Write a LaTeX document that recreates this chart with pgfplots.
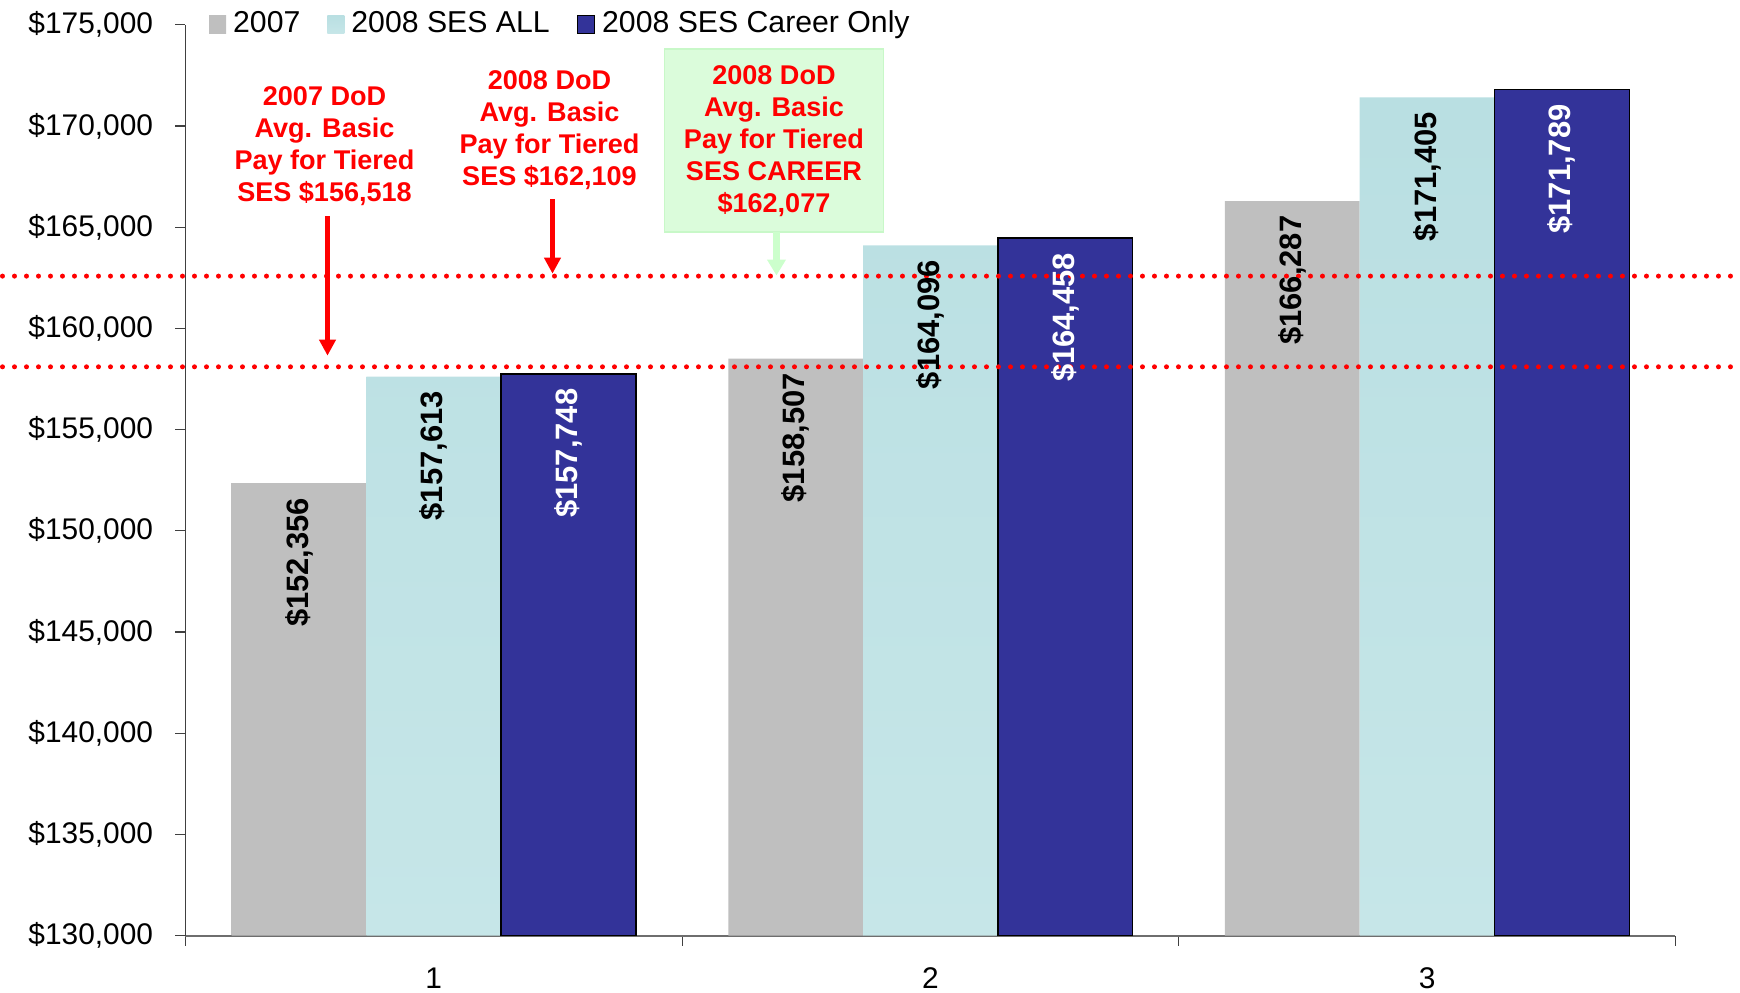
\documentclass[border=0pt]{standalone}
\usepackage{pgfplots}
\pgfplotsset{compat=1.18}
\usetikzlibrary{arrows.meta}
\usepackage{fontspec}
\setmainfont{Liberation Sans}
\definecolor{navy}{HTML}{333399}
\definecolor{cyanA}{HTML}{B9DFE2}
\definecolor{cyanB}{HTML}{C6E6E8}
\definecolor{gA}{HTML}{BFBFBF}
\definecolor{gB}{HTML}{D5D5D5}
\definecolor{boxfill}{HTML}{DBFCDB}
\definecolor{boxdraw}{HTML}{C8F8C8}
\definecolor{arrowgreen}{HTML}{CCFFCC}
\definecolor{axisgray}{HTML}{6E6E6E}
\pgfplotsset{
  barlabel/.style={
    nodes near coords={\$\pgfmathprintnumber{\pgfplotspointmeta}},
    every node near coord/.append style={rotate=90, anchor=east, outer xsep=0.3mm,
      font=\fontsize{8.8}{10}\bfseries\selectfont},
  },
}
\begin{document}
\begin{tikzpicture}
\begin{axis}[
  scale only axis, width=149mm, height=91.1mm,
  xmin=0.5, xmax=3.5, ymin=130000, ymax=175000,
  axis lines=left, axis line style={-},
  x axis line style={draw=axisgray, line width=0.5pt},
  y axis line style={draw=black!75, line width=0.35pt},
  tick align=outside,
  major tick length=1mm,
  tick style={draw=black!75, line width=0.35pt},
  xtick={0.5,1.5,2.5,3.5}, xticklabels={},
  extra x ticks={1,2,3}, extra x tick labels={1,2,3},
  extra tick style={major tick length=0pt},
  xticklabel style={inner xsep=0pt, inner ysep=1.2pt, yshift=-2.7mm},
  yticklabel style={xshift=-1mm},
  ytick={130000,135000,...,175000},
  scaled y ticks=false,
  yticklabel={\$\pgfmathprintnumber{\tick}},
  /pgf/number format/fixed, /pgf/number format/precision=0,
  /pgf/number format/1000 sep={,}, /pgf/number format/assume math mode=true,
  ticklabel style={font=\fontsize{8.5}{10}\selectfont},
  clip=false,
  bar width=0.2714,
  legend columns=-1,
  legend cell align=left,
  legend image code/.code={\path[#1] (0mm,-0.9mm) rectangle (1.7mm,0.9mm);},
  legend style={at={(0.0154,1.0)}, anchor=west, draw=none, fill=none, inner sep=0pt,
    font=\fontsize{8.6}{10}\selectfont,
    /tikz/every even column/.append style={column sep=2mm}},
]
\addplot[ybar, bar shift=0pt, draw=none, left color=gA, middle color=gB, right color=gA, barlabel]
  coordinates {(0.7286,152356) (1.7286,158507) (2.7286,166287)};
\addlegendentry{2007}
\addplot[ybar, bar shift=0pt, draw=none, top color=cyanA, bottom color=cyanB, barlabel]
  coordinates {(1,157613) (2,164096) (3,171405)};
\addlegendentry{2008 SES ALL}
\addplot[ybar, bar shift=0pt, draw=black, line width=0.4pt, fill=navy, barlabel,
  every node near coord/.append style={text=white}]
  coordinates {(1.2714,157748) (2.2714,164458) (3.2714,171789)};
\addlegendentry{2008 SES Career Only}
% reference lines
\addplot[red, line width=0.5mm, dash pattern=on 0pt off 1.2mm, line cap=round, forget plot]
  coordinates {(0.1316,162580) (3.625,162580)};
\addplot[red, line width=0.5mm, dash pattern=on 0pt off 1.2mm, line cap=round, forget plot]
  coordinates {(0.1316,158100) (3.625,158100)};
% annotations
\node[align=center, text=red, font=\fontsize{7.7}{9.1}\bfseries\selectfont]
  at (axis cs:0.780,169005) {2007 DoD\\Avg. Basic\\Pay for Tiered\\SES \$156,518};
\draw[red, line width=0.45mm, -{Triangle[length=1.6mm,width=1.6mm]}]
  (axis cs:0.786,165542) -- (axis cs:0.786,158650);
\node[align=center, text=red, font=\fontsize{7.7}{9.1}\bfseries\selectfont]
  at (axis cs:1.233,169798) {2008 DoD\\Avg. Basic\\Pay for Tiered\\SES \$162,109};
\draw[red, line width=0.45mm, -{Triangle[length=1.6mm,width=1.6mm]}]
  (axis cs:1.239,166380) -- (axis cs:1.239,162700);
\node[fill=boxfill, draw=boxdraw, line width=0.5pt, minimum width=21.9mm, minimum height=18.3mm,
  align=center, text=red, font=\fontsize{7.7}{9.1}\bfseries\selectfont]
  at (axis cs:1.6849,169261) {2008 DoD\\Avg. Basic\\Pay for Tiered\\SES CAREER\\\$162,077};
\draw[arrowgreen, line width=0.7mm, -{Triangle[length=1.6mm,width=1.8mm]}]
  (axis cs:1.690,164754) -- (axis cs:1.690,162610);
\end{axis}
\end{tikzpicture}
\end{document}
